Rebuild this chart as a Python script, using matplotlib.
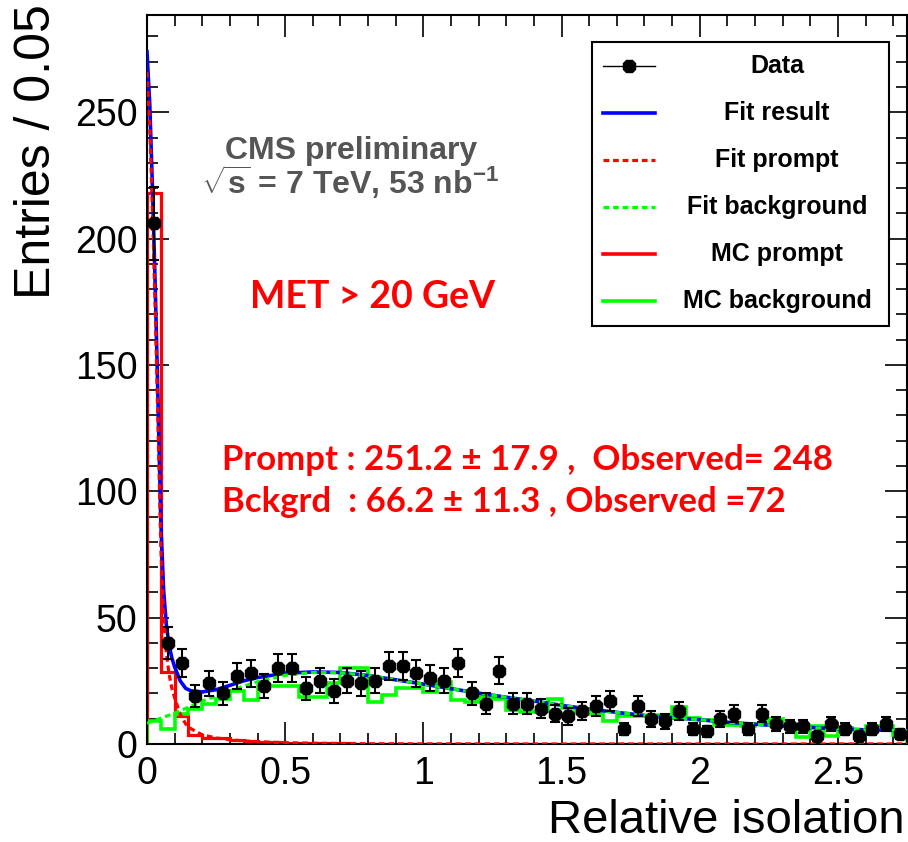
import numpy as np
import matplotlib
matplotlib.use('Agg')
import matplotlib.pyplot as plt
from matplotlib.ticker import MultipleLocator
from matplotlib.patches import Rectangle

plt.rcParams['font.family'] = ['Liberation Sans', 'DejaVu Sans']
plt.rcParams['mathtext.fontset'] = 'custom'
plt.rcParams['mathtext.rm'] = 'Liberation Sans:bold'
plt.rcParams['mathtext.bf'] = 'Liberation Sans:bold'

# histogram binning: 55 bins of 0.05 in relative isolation
bin_lo, bin_hi, n_bins = 0.0, 2.75, 55
edges = np.linspace(bin_lo, bin_hi, n_bins + 1)
centers = 0.5 * (edges[:-1] + edges[1:])

data_counts = [206, 40, 32, 19, 24, 20, 27, 28, 23, 30,
               30, 22, 25, 21, 25, 24, 25, 31, 31, 28,
               26, 25, 32, 20, 16, 29, 16, 16, 14, 12,
               11, 13, 15, 17, 6, 15, 10, 9, 13, 6,
               5, 10, 12, 6, 12, 8, 7, 7, 3, 8,
               6, 3, 6, 8, 4]

mc_prompt = [218, 28.5, 11, 3.6, 2.3, 2.2, 1.4, 1.2, 0.7, 0.6,
             0.4, 0.3, 0.3, 0.2, 0.2, 0.1, 0.1, 0.1, 0.1, 0.1,
             0, 0, 0, 0, 0, 0, 0, 0, 0, 0,
             0, 0, 0, 0, 0, 0, 0, 0, 0, 0,
             0, 0, 0, 0, 0, 0, 0, 0, 0, 0,
             0, 0, 0, 0, 0]

mc_bkg = [9, 6, 12, 14, 16, 18, 21, 17.5, 23, 23,
          23, 18.7, 18.7, 24, 30, 30, 16.5, 19.5, 22, 22,
          20.5, 24.5, 17.5, 16.5, 18.5, 18, 13.5, 12.8, 13, 17.7,
          14.4, 12.5, 12, 9.2, 11, 11, 11, 11.5, 14.8, 10.2,
          9.5, 7.5, 7.5, 7, 8, 10, 7.5, 2.7, 7.2, 3.3,
          6.2, 5.5, 7, 7, 3.6]

# fitted shapes sampled along x
fit_x = [0, 0.01, 0.02, 0.03, 0.04, 0.05, 0.06, 0.07, 0.08, 0.09, 0.10,
         0.12, 0.14, 0.16, 0.20, 0.25, 0.30, 0.35, 0.40,
         0.5, 0.6, 0.7, 0.8, 0.9, 1.0, 1.1, 1.2, 1.3, 1.4, 1.5, 1.6, 1.7,
         1.8, 1.9, 2.0, 2.1, 2.2, 2.3, 2.4, 2.5, 2.6, 2.7, 2.75]
fit_total = [274, 253, 219, 180, 135, 88, 61, 47, 39, 34, 30.5,
             25, 22, 21, 20.6, 21.5, 23.2, 25, 26.3,
             28, 28.5, 28.3, 27.1, 25.4, 23.7, 21.9, 20.1, 18.5, 17, 15.3, 13.8, 12.5,
             11.3, 10.4, 9.6, 8.6, 7.8, 7.1, 6.5, 6.0, 5.6, 5.4, 5.3]
fit_prompt = [266, 244, 210, 171, 125, 78, 50, 36, 27.6, 22, 18.3,
              11.8, 7.9, 6.0, 3.6, 2.4, 1.7, 1.2, 0.9,
              0.5, 0.3, 0.2, 0.1, 0.08, 0.05, 0.04, 0.03, 0.02, 0.02, 0.01, 0.01, 0.01,
              0.01, 0, 0, 0, 0, 0, 0, 0, 0, 0, 0]
fit_bkg = [8.2, 8.6, 9.0, 9.4, 9.8, 10.2, 10.6, 11.0, 11.4, 11.8, 12.2,
           13.2, 14.1, 15.0, 17.0, 19.0, 21.0, 22.9, 24.6,
           27.2, 28.3, 28.2, 27.1, 25.4, 23.7, 21.9, 20.1, 18.5, 17, 15.3, 13.8, 12.5,
           11.3, 10.4, 9.6, 8.6, 7.8, 7.1, 6.5, 6.0, 5.6, 5.4, 5.3]

legend_labels = ['Data', 'Fit result', 'Fit prompt', 'Fit background',
                 'MC prompt', 'MC background']

RED, GREEN, BLUE = '#ff0000', '#00ff00', '#0000ff'
DOT = (0, (1.8, 1.2))

fig = plt.figure(figsize=(9.08, 8.42), dpi=100)
ax = fig.add_axes([0.1619, 0.1164, 0.8370, 0.8658])

# MC templates
ax.stairs(mc_prompt, edges, color=RED, lw=2.3, zorder=2)
ax.stairs(mc_bkg, edges, color=GREEN, lw=2.6, zorder=2)

# fit result and its components
ax.plot(fit_x, fit_total, color=BLUE, lw=2.6, zorder=3)
ax.plot(fit_x, fit_prompt, color=RED, lw=2.3, ls=DOT, zorder=4)
ax.plot(fit_x, fit_bkg, color=GREEN, lw=2.3, ls=DOT, zorder=4)

# data with poisson errors
counts = np.array(data_counts, dtype=float)
ax.errorbar(centers, counts, yerr=np.sqrt(counts), fmt='8', color='black',
            ms=10, elinewidth=1.5, capsize=3.5, capthick=1.5, zorder=5)

ax.set_xlim(bin_lo, bin_hi)
ax.set_ylim(0, 288.5)
ax.xaxis.set_major_locator(MultipleLocator(0.5))
ax.xaxis.set_minor_locator(MultipleLocator(0.1))
ax.yaxis.set_major_locator(MultipleLocator(50))
ax.yaxis.set_minor_locator(MultipleLocator(10))
ax.xaxis.set_major_formatter(matplotlib.ticker.FuncFormatter(lambda v, p: '%g' % v))
ax.tick_params(which='both', direction='in', top=True, right=True,
               width=1.2, labelsize=27)
ax.tick_params(which='major', length=16)
ax.tick_params(which='minor', length=8)
ax.tick_params(axis='x', pad=9)
ax.tick_params(axis='y', pad=7)
for s in ax.spines.values():
    s.set_linewidth(1.5)

fig.text(37 / 908, 1 - 4 / 842, 'Entries / 0.05', rotation=90,
         ha='center', va='top', fontsize=36)
fig.text(905 / 908, 9 / 842, 'Relative isolation', ha='right',
         va='baseline', fontsize=34)

# annotations
gray = '#555555'
ax.text(0.268, 0.8025, 'CMS preliminary', transform=ax.transAxes,
        ha='center', va='baseline', fontsize=23, fontweight='bold', color=gray)
ax.text(0.267, 0.7545, r'$\sqrt{\mathbf{s}}$ = 7 TeV, 53 nb$^{\mathbf{-1}}$',
        transform=ax.transAxes, ha='center', va='baseline', fontsize=23,
        fontweight='bold', color=gray)
ax.text(0.297, 0.598, 'MET > 20 GeV', transform=ax.transAxes, ha='center',
        va='baseline', fontsize=27, fontweight='bold', color=RED,
        family=['Lato', 'DejaVu Sans'])
ax.text(0.0987, 0.376, 'Prompt : 251.2 \u00b1 17.9 ,  Observed= 248',
        transform=ax.transAxes, ha='left', va='baseline', fontsize=25,
        fontweight='bold', color=RED, family=['Lato', 'DejaVu Sans'])
ax.text(0.0987, 0.318, 'Bckgrd  : 66.2 \u00b1 11.3 , Observed =72',
        transform=ax.transAxes, ha='left', va='baseline', fontsize=25,
        fontweight='bold', color=RED, family=['Lato', 'DejaVu Sans'])

# legend box
lx0, lx1, ly0, ly1 = 0.5855, 0.9763, 0.5734, 0.963
ax.add_patch(Rectangle((lx0, ly0), lx1 - lx0, ly1 - ly0, transform=ax.transAxes,
                       facecolor='white', edgecolor='black', lw=1.5, zorder=10))
row_y = [0.930, 0.866, 0.801, 0.737, 0.672, 0.608]
styles = [dict(color='black', lw=1.0),
          dict(color=BLUE, lw=2.6),
          dict(color=RED, lw=2.3, ls=DOT),
          dict(color=GREEN, lw=2.3, ls=DOT),
          dict(color=RED, lw=2.6),
          dict(color=GREEN, lw=2.6)]
for yy, lab, st in zip(row_y, legend_labels, styles):
    ax.plot([0.600, 0.668], [yy, yy], transform=ax.transAxes, zorder=11,
            clip_on=False, **st)
    ax.text(0.829, yy, lab, transform=ax.transAxes, ha='center', va='center',
            fontsize=18, fontweight='bold', zorder=11)
ax.plot([0.634], [row_y[0]], marker='8', ms=10, color='black',
        transform=ax.transAxes, zorder=12)

fig.savefig('out.png', dpi=100)
